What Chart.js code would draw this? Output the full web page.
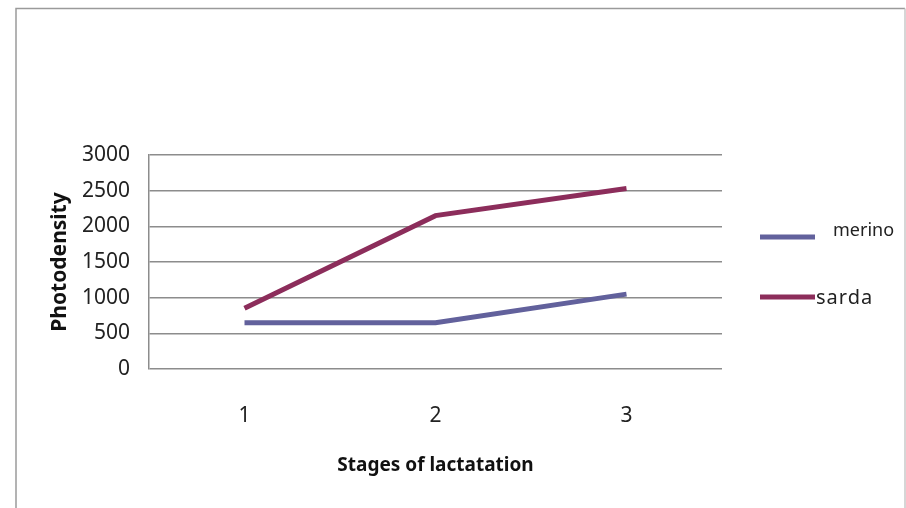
<!DOCTYPE html>
<html>
<head>
<meta charset="utf-8">
<script src="https://cdn.jsdelivr.net/npm/chart.js@4"></script>
<style>
  html, body { margin: 0; padding: 0; background: #fff; }
  #wrap { width: 906px; height: 508px; }
</style>
</head>
<body>
<div id="wrap"><canvas id="chart" width="906" height="508"></canvas></div>
<script>
  // values
  var stages = ['1', '2', '3'];
  var merino = [650, 650, 1050];
  var sarda = [850, 2150, 2530];
  var yTicks = [0, 500, 1000, 1500, 2000, 2500, 3000];

  var font = "'Noto Sans', 'DejaVu Sans', sans-serif";

  // outer frame of the picture
  var framePlugin = {
    id: 'frame',
    beforeDraw: function(chart) {
      var ctx = chart.ctx;
      ctx.save();
      ctx.strokeStyle = '#9a9a9a';
      ctx.lineWidth = 1.5;
      ctx.beginPath();
      ctx.moveTo(16, 520);
      ctx.lineTo(16, 8.5);
      ctx.lineTo(905, 8.5);
      ctx.stroke();
      ctx.strokeStyle = '#c8c8c8';
      ctx.beginPath();
      ctx.moveTo(905, 8.5);
      ctx.lineTo(905, 520);
      ctx.stroke();
      ctx.restore();
    }
  };

  // legend on the right, drawn like the original (line sample + label)
  var legendPlugin = {
    id: 'sideLegend',
    afterDraw: function(chart) {
      var ctx = chart.ctx;
      var items = [
        { y: 237, textX: 833, textY: 231, size: 18 },
        { y: 297, textX: 816, textY: 298, size: 20 }
      ];
      ctx.save();
      chart.data.datasets.forEach(function(ds, i) {
        var it = items[i];
        ctx.strokeStyle = ds.borderColor;
        ctx.lineWidth = 5;
        ctx.lineCap = 'butt';
        ctx.beginPath();
        ctx.moveTo(760, it.y);
        ctx.lineTo(815, it.y);
        ctx.stroke();
        ctx.fillStyle = '#222';
        ctx.font = it.size + 'px ' + font;
        if (i === 1) ctx.letterSpacing = '1px';
        ctx.textBaseline = 'middle';
        ctx.textAlign = 'left';
        ctx.fillText(ds.label, it.textX, it.textY);
        ctx.letterSpacing = '0px';
      });
      ctx.restore();
    }
  };

  var ctx = document.getElementById('chart').getContext('2d');
  var chart = new Chart(ctx, {
    type: 'line',
    data: {
      labels: stages,
      datasets: [
        {
          label: 'merino',
          data: merino,
          borderColor: '#62619c',
          borderWidth: 5,
          pointRadius: 0,
          tension: 0,
          fill: false
        },
        {
          label: 'sarda',
          data: sarda,
          borderColor: '#8c2d5b',
          borderWidth: 5,
          pointRadius: 0,
          tension: 0,
          fill: false
        }
      ]
    },
    options: {
      responsive: false,
      animation: false,
      layout: { padding: { left: 20, top: 155, right: 184, bottom: 20 } },
      plugins: {
        legend: { display: false },
        tooltip: { enabled: false }
      },
      scales: {
        x: {
          offset: true,
          grid: { display: false, drawTicks: false },
          border: { display: false },
          ticks: {
            padding: 34,
            color: '#222',
            font: { family: font, size: 21 }
          },
          title: {
            display: true,
            text: 'Stages of lactatation',
            color: '#111',
            font: { family: font, size: 19, weight: 'bold' },
            padding: { top: 0, bottom: 11 }
          },
          afterFit: function(scale) { scale.height = 119; }
        },
        y: {
          min: 0,
          max: 3000,
          afterBuildTicks: function(scale) {
            scale.ticks = yTicks.map(function(v) { return { value: v }; });
          },
          grid: { color: '#8c8c8c', lineWidth: 1.5, drawTicks: false },
          border: { display: true, color: '#8c8c8c', width: 1.5 },
          ticks: {
            padding: 19,
            color: '#222',
            font: { family: font, size: 21 },
            callback: function(v) { return String(v); }
          },
          title: {
            display: true,
            text: 'Photodensity',
            color: '#111',
            font: { family: font, size: 21, weight: 'bold' },
            padding: { top: 27, bottom: 0 }
          },
          afterFit: function(scale) { scale.width = 129; }
        }
      }
    },
    plugins: [framePlugin, legendPlugin]
  });
</script>
</body>
</html>
